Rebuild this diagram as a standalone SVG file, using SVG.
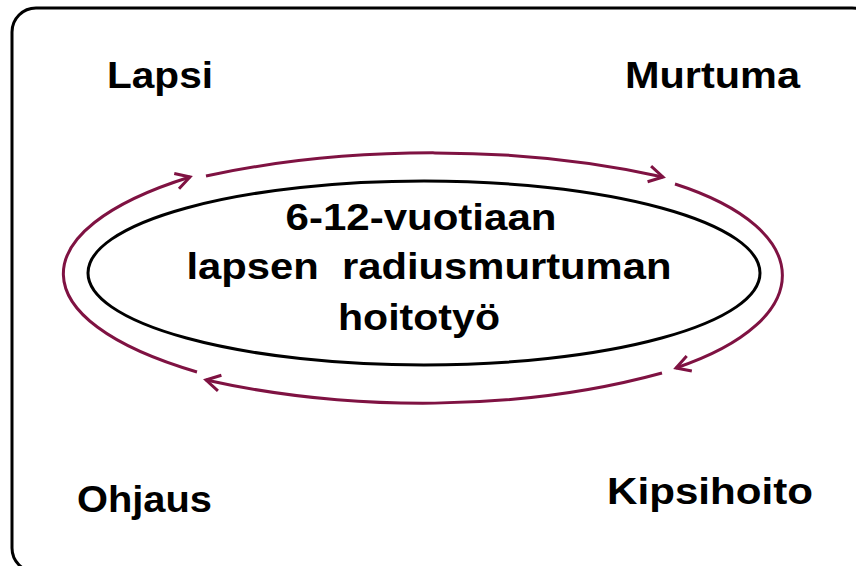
<svg xmlns="http://www.w3.org/2000/svg" width="856" height="566" viewBox="0 0 856 566">
<defs>
<style>
.lbl{font-family:"Liberation Sans",Arial,sans-serif;font-weight:bold;font-size:37px;fill:#000}
.ctr{font-family:"Liberation Sans",Arial,sans-serif;font-weight:bold;font-size:36px;fill:#000;text-anchor:middle;white-space:pre}
.arc{fill:none;stroke:#7f1242;stroke-width:3;marker-end:url(#ah)}
</style>
<marker id="ah" viewBox="0 0 20 20" refX="17" refY="10" markerWidth="20" markerHeight="20" markerUnits="userSpaceOnUse" orient="auto">
<path d="M3,2 L17,10 L3,18" fill="none" stroke="#7f1242" stroke-width="3" stroke-linejoin="miter"/>
</marker>
</defs>
<rect x="12" y="8" width="864" height="564" rx="24" ry="24" fill="#fff" stroke="#000" stroke-width="3"/>
<g id="connectors">
<path class="arc" d="M197,372 C20,320 20,230 190,177"/>
<path class="arc" d="M206,176 C350,145 520,145 663,177"/>
<path class="arc" d="M675,184 C818,230 818,320 676,368"/>
<path class="arc" d="M662,373 C520,412 350,412 206,380"/>
</g>
<g id="center">
<ellipse cx="424" cy="273" rx="336" ry="92" fill="none" stroke="#000" stroke-width="3"/>
<text class="ctr" x="421" y="230" textLength="271" lengthAdjust="spacingAndGlyphs">6-12-vuotiaan</text>
<text class="ctr" x="429" y="279" textLength="485" lengthAdjust="spacingAndGlyphs" xml:space="preserve">lapsen  radiusmurtuman</text>
<text class="ctr" x="419" y="330" textLength="162" lengthAdjust="spacingAndGlyphs">hoitotyö</text>
</g>
<g id="lapsi"><text class="lbl" x="107" y="88" textLength="106" lengthAdjust="spacingAndGlyphs">Lapsi</text></g>
<g id="murtuma"><text class="lbl" x="625" y="88" textLength="175" lengthAdjust="spacingAndGlyphs">Murtuma</text></g>
<g id="ohjaus"><text class="lbl" x="77" y="512" textLength="135" lengthAdjust="spacingAndGlyphs">Ohjaus</text></g>
<g id="kipsihoito"><text class="lbl" x="607" y="504" textLength="206" lengthAdjust="spacingAndGlyphs">Kipsihoito</text></g>
</svg>
